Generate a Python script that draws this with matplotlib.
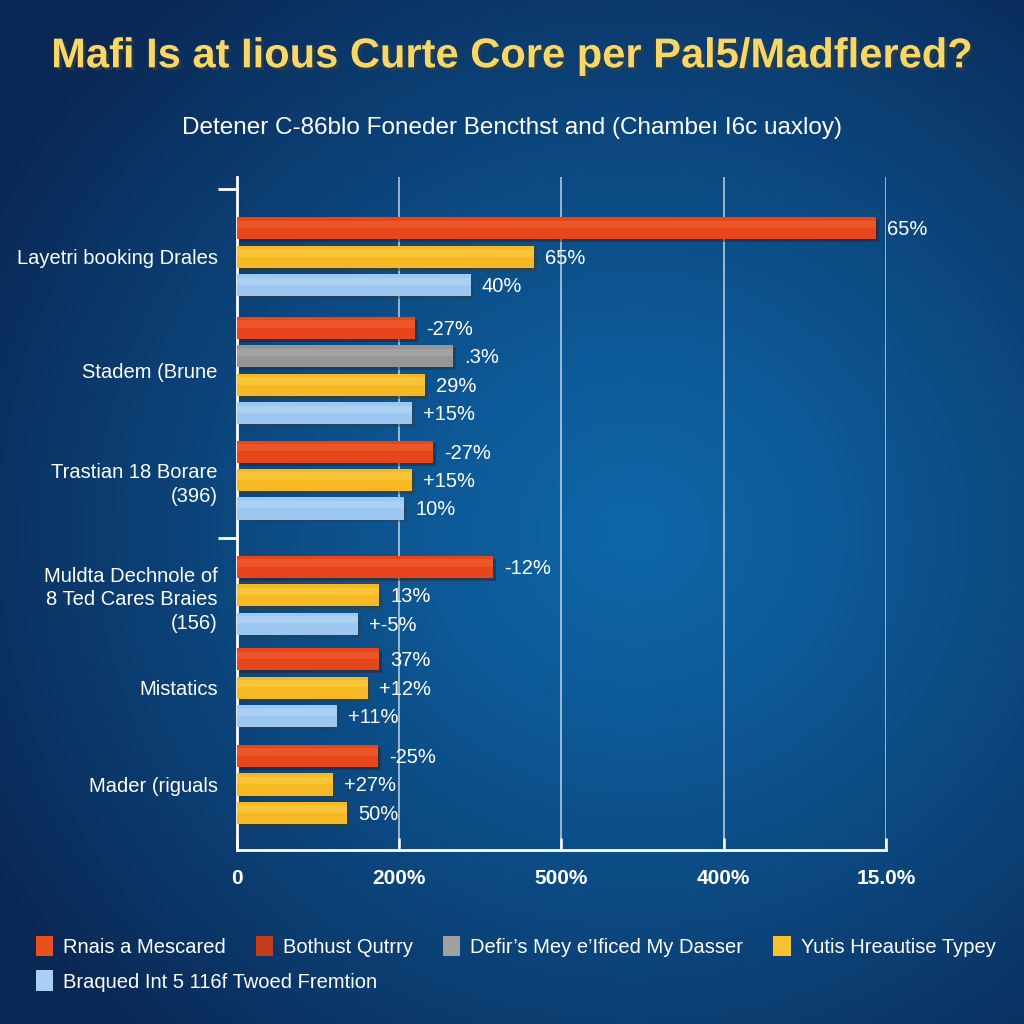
import numpy as np
import matplotlib
matplotlib.use("Agg")
from matplotlib import pyplot as plt
from matplotlib.patches import Patch
import matplotlib.patheffects as pe

# data (x in axis units: one unit per gridline)
groups = ["Layetri booking Drales", "Stadem (Brune", "Trastian 18 Borare\n(396)",
          "Muldta Dechnole of\n8 Ted Cares Braies\n(156)", "Mistatics", "Mader (riguals"]
bar_group = [0, 0, 0, 1, 1, 1, 1, 2, 2, 2, 3, 3, 3, 4, 4, 4, 5, 5, 5]
bar_series = ["red", "yellow", "blue",
              "red", "gray", "yellow", "blue",
              "red", "yellow", "blue",
              "red", "yellow", "blue",
              "red", "yellow", "blue",
              "red", "yellow", "yellow"]
bar_values = [3.94, 1.83, 1.44,
              1.10, 1.33, 1.16, 1.08,
              1.21, 1.08, 1.03,
              1.58, 0.875, 0.746,
              0.875, 0.81, 0.616,
              0.87, 0.59, 0.68]
bar_labels = ["65%", "65%", "40%",
              "-27%", ".3%", "29%", "+15%",
              "-27%", "+15%", "10%",
              "-12%", "13%", "+-5%",
              "37%", "+12%", "+11%",
              "-25%", "+27%", "50%"]
tick_labels = ["0", "200%", "500%", "400%", "15.0%"]
legend_names = ["Rnais a Mescared", "Bothust Qutrry", "Defir\u2019s Mey e\u2019Ificed My Dasser",
                "Yutis Hreautise Typey", "Braqued Int 5 116f Twoed Fremtion"]
legend_colors = ["#E8501E", "#C23E18", "#A0A0A0", "#F8C22E", "#A8CFF5"]

colors = {"red": "#E8461A", "yellow": "#F6B823", "blue": "#9CC7F1", "gray": "#969696"}
highlight = {"red": "#F36A3A", "yellow": "#FDD450", "blue": "#BCDBF8", "gray": "#B2B2B2"}

plt.rcParams["font.family"] = ["Liberation Sans", "DejaVu Sans"]

# layout: extra space before each group
group_gap = [0, 0.5, 0.85, 1.9, 2.15, 2.55]
ypos = np.arange(len(bar_values)) + np.array([group_gap[g] for g in bar_group])

fig = plt.figure(figsize=(10.24, 10.24), dpi=100)

# background gradient
bg = fig.add_axes([0, 0, 1, 1], zorder=-10)
yy, xx = np.mgrid[0:1:400j, 0:1:400j]
d = np.sqrt((xx - 0.62) ** 2 + ((yy - 0.52) * 1.05) ** 2)
t = np.clip(d / 0.72, 0, 1)[..., None] ** 1.2
c_in = np.array([0x0E, 0x66, 0xA8]) / 255
c_out = np.array([0x0A, 0x28, 0x55]) / 255
bg.imshow(c_in * (1 - t) + c_out * t, extent=[0, 1, 0, 1], aspect="auto")
bg.axis("off")

ax = fig.add_axes([0.2314, 0.17, 0.6338, 0.657])
ax.set_facecolor("none")

cols = [colors[s] for s in bar_series]
bars = ax.barh(ypos, bar_values, height=0.78, color=cols, edgecolor="none", zorder=3)
for b in bars:
    b.set_path_effects([pe.SimplePatchShadow(offset=(2, -2), alpha=0.45), pe.Normal()])
ax.barh(ypos - 0.14, bar_values, height=0.26, color=[highlight[s] for s in bar_series],
        edgecolor="none", alpha=0.45, zorder=4)

for y, v, lab in zip(ypos, bar_values, bar_labels):
    ax.annotate(lab, (v, y), xytext=(8, -1), textcoords="offset points", va="center",
                ha="left", color="white", fontsize=14.5, zorder=5)

ax.set_xlim(0, 4)
ax.set_ylim(ypos[-1] + 1.3, -1.8)
ax.set_xticks(range(5))
ax.set_xticklabels(tick_labels, color="white", fontsize=15, fontweight="bold")
ax.tick_params(axis="x", direction="in", length=9, width=1.8, color="white", pad=14)

centers = [ypos[[i for i, g in enumerate(bar_group) if g == k]].mean() for k in range(len(groups))]
ax.set_yticks(centers)
ax.set_yticklabels(groups, color="white", fontsize=14.5, linespacing=1.3)
ax.tick_params(axis="y", length=0, pad=14)
split = (ypos[9] + ypos[10]) / 2
ax.set_yticks([-1.4, split], minor=True)
ax.tick_params(axis="y", which="minor", length=14, width=2, color="white", direction="out")

ax.grid(axis="x", color="white", alpha=0.75, linewidth=1.1, zorder=0)
for s in ["top", "right"]:
    ax.spines[s].set_visible(False)
for s in ["left", "bottom"]:
    ax.spines[s].set_color("white")
    ax.spines[s].set_linewidth(2)

fig.text(0.5, 0.945, "Mafi Is at Iious Curte Core per Pal5/Madflered?", ha="center",
         va="center", color="#F7D66A", fontsize=30, fontweight="bold",
         path_effects=[pe.withSimplePatchShadow(offset=(2, -2), alpha=0.5)])
fig.text(0.5, 0.875, "Detener C-86blo Foneder Bencthst and (Chambe\u0131 I6c uaxloy)", ha="center",
         va="center", color="white", fontsize=17.5)

handles = [Patch(facecolor=c, edgecolor="none") for c in legend_colors]
fig.legend(handles[:4], legend_names[:4], loc="center left", bbox_to_anchor=(0.017, 0.076),
           ncol=4, frameon=False, fontsize=14.5, labelcolor="white", handlelength=0.85,
           handleheight=1.2, handletextpad=0.5, columnspacing=1.5)
fig.legend(handles[4:], legend_names[4:], loc="center left", bbox_to_anchor=(0.017, 0.042),
           ncol=1, frameon=False, fontsize=14.5, labelcolor="white", handlelength=0.85,
           handleheight=1.2, handletextpad=0.5)

fig.savefig("out.png", dpi=100)
